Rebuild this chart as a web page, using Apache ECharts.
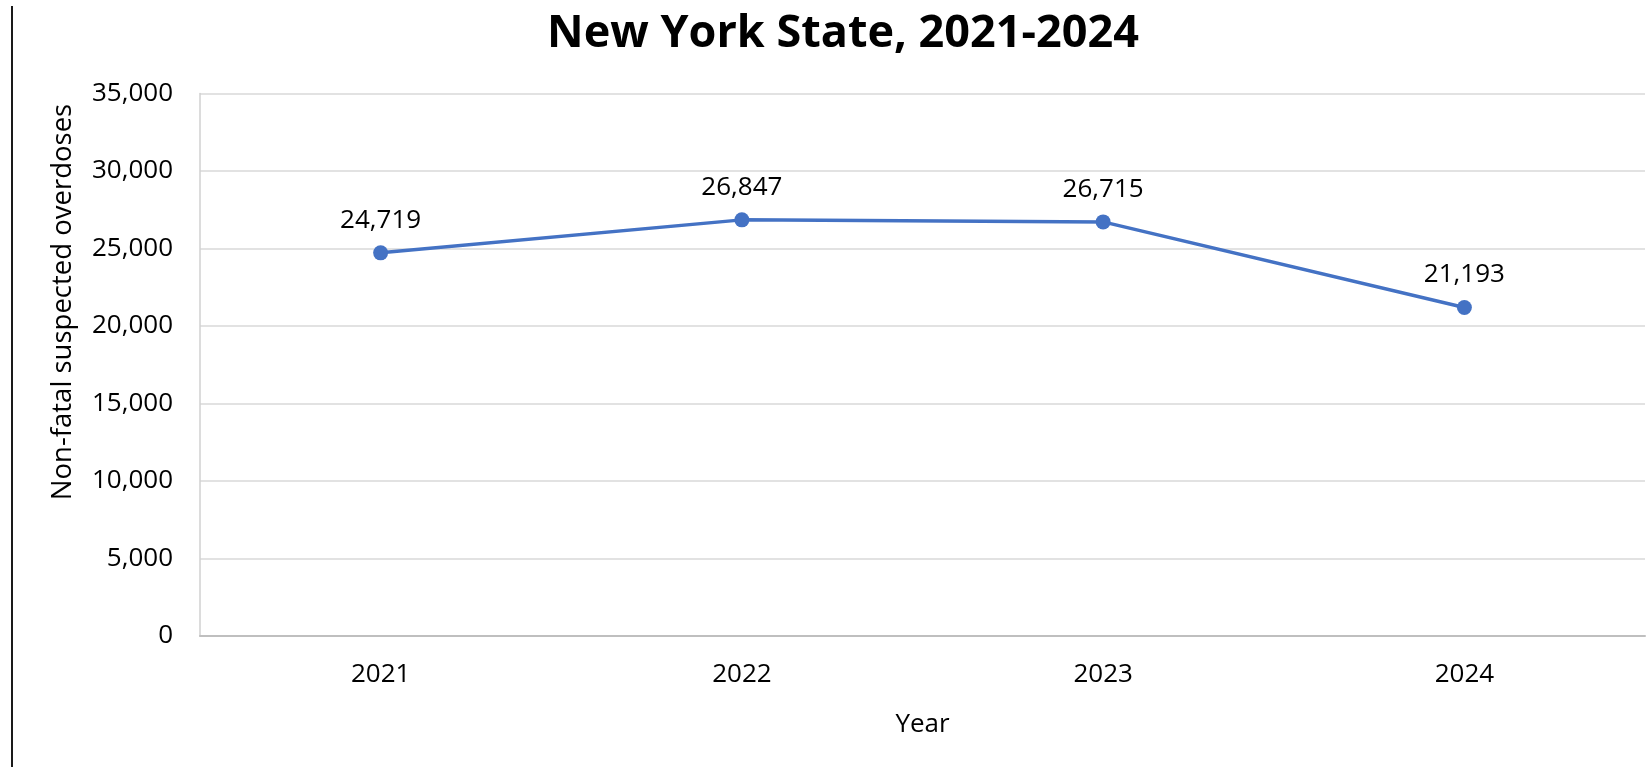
<!DOCTYPE html>
<html>
<head>
<meta charset="utf-8">
<title>New York State, 2021-2024</title>
<script src="https://cdn.jsdelivr.net/npm/echarts@6/dist/echarts.min.js"></script>
<style>
  html, body { margin: 0; padding: 0; background: #ffffff; }
  #chart { width: 1649px; height: 767px; }
</style>
</head>
<body>
<div id="chart"></div>
<script>
// Yearly totals of non-fatal suspected overdoses, New York State
const years = ['2021', '2022', '2023', '2024'];
const overdoses = [24719, 26847, 26715, 21193];
const yTicks = [0, 5000, 10000, 15000, 20000, 25000, 30000, 35000];

const titleText = 'New York State, 2021-2024';
const yAxisTitle = 'Non-fatal suspected overdoses';
const xAxisTitle = 'Year';

const FONT = '"Open Sans", "Liberation Sans", sans-serif';
const fmt = v => v.toLocaleString('en-US');

const chart = echarts.init(document.getElementById('chart'), null, { renderer: 'canvas' });

chart.setOption({
  backgroundColor: '#ffffff',
  animation: false,
  textStyle: { fontFamily: FONT },
  title: {
    text: titleText,
    left: 838,
    top: 7,
    textAlign: 'center',
    textStyle: { fontFamily: FONT, fontWeight: 'bold', fontSize: 45, color: '#000000' }
  },
  grid: { left: 200, right: 4, top: 93.5, bottom: 131, containLabel: false },
  graphic: [
    {
      type: 'line',
      shape: { x1: 12, y1: 6, x2: 12, y2: 767 },
      style: { stroke: '#1a1a1a', lineWidth: 2 }
    },
    {
      type: 'text',
      x: 63,
      y: 302,
      rotation: Math.PI / 2,
      style: {
        text: yAxisTitle,
        font: '27.5px ' + FONT,
        fill: '#000000',
        align: 'center',
        verticalAlign: 'middle'
      }
    }
  ],
  xAxis: {
    type: 'category',
    data: years,
    boundaryGap: true,
    name: xAxisTitle,
    nameLocation: 'middle',
    nameGap: 76,
    nameTextStyle: { fontFamily: FONT, fontSize: 26, color: '#000000' },
    axisLine: { show: true, lineStyle: { color: '#bfbfbf', width: 2 } },
    axisTick: { show: false },
    axisLabel: { fontFamily: FONT, fontSize: 26, color: '#000000', margin: 26 },
    splitLine: { show: false }
  },
  yAxis: {
    type: 'value',
    min: yTicks[0],
    max: yTicks[yTicks.length - 1],
    interval: yTicks[1] - yTicks[0],
    axisLine: { show: true, lineStyle: { color: '#d0d0d0', width: 1.5 } },
    axisTick: { show: false },
    axisLabel: {
      fontFamily: FONT, fontSize: 26, color: '#000000', margin: 27,
      formatter: v => fmt(v)
    },
    splitLine: { show: true, lineStyle: { color: '#d9d9d9', width: 1.5 } }
  },
  series: [
    {
      type: 'line',
      data: overdoses,
      symbol: 'circle',
      symbolSize: 15,
      showAllSymbol: true,
      itemStyle: { color: '#4472C4' },
      lineStyle: { color: '#4472C4', width: 3.5 },
      label: {
        show: true,
        position: 'top',
        distance: 12,
        fontFamily: FONT,
        fontSize: 26,
        color: '#000000',
        formatter: p => fmt(p.value)
      }
    }
  ]
});
</script>
</body>
</html>
